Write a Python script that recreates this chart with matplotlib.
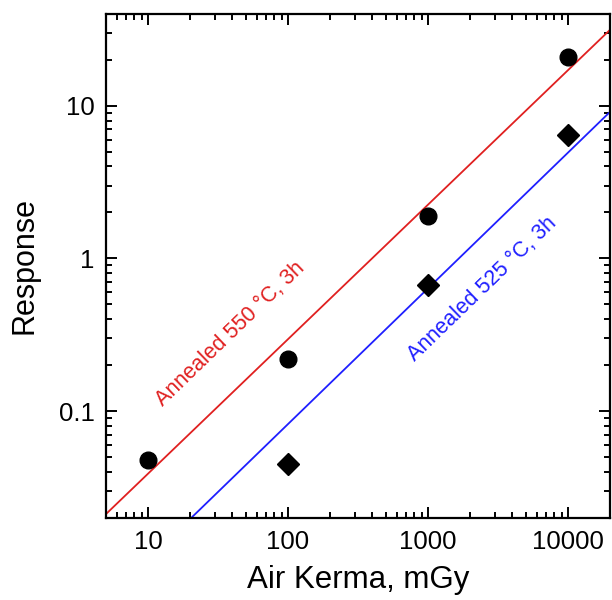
import matplotlib
matplotlib.use("Agg")
import matplotlib.pyplot as plt
import numpy as np
from matplotlib.ticker import LogLocator, NullFormatter, FixedLocator, FixedFormatter

plt.rcParams['font.family'] = ['Liberation Sans', 'DejaVu Sans']

# measured points
dose_550 = [10, 100, 1000, 10000]
resp_550 = [0.048, 0.22, 1.9, 21.0]
dose_525 = [100, 1000, 10000]
resp_525 = [0.045, 0.67, 6.4]

# log-log fit lines: log10(y) = slope*log10(x) + offset
fit_550 = (0.881, -2.291)
fit_525 = (0.889, -2.863)

xticks = [10, 100, 1000, 10000]
xtick_labels = ["10", "100", "1000", "10000"]
yticks = [0.1, 1, 10]
ytick_labels = ["0.1", "1", "10"]

fig = plt.figure(figsize=(6.12, 6.0), dpi=100)
ax = fig.add_axes([0.173, 0.137, 0.824, 0.840])

xx = np.logspace(np.log10(5), np.log10(20000), 200)
ax.plot(xx, 10 ** (fit_550[0] * np.log10(xx) + fit_550[1]), color="#e02020", lw=1.3)
ax.plot(xx, 10 ** (fit_525[0] * np.log10(xx) + fit_525[1]), color="#1f1fff", lw=1.3)

ax.plot(dose_550, resp_550, "o", color="black", ms=12, ls="none")
ax.plot(dose_525, resp_525, "D", color="black", ms=11, ls="none")

ax.set_xscale("log")
ax.set_yscale("log")
ax.set_xlim(5, 20000)
ax.set_ylim(0.02, 40)

ax.xaxis.set_major_locator(FixedLocator(xticks))
ax.xaxis.set_major_formatter(FixedFormatter(xtick_labels))
ax.yaxis.set_major_locator(FixedLocator(yticks))
ax.yaxis.set_major_formatter(FixedFormatter(ytick_labels))
ax.xaxis.set_minor_locator(LogLocator(base=10, subs=np.arange(2, 10), numticks=20))
ax.yaxis.set_minor_locator(LogLocator(base=10, subs=np.arange(2, 10), numticks=20))
ax.xaxis.set_minor_formatter(NullFormatter())
ax.yaxis.set_minor_formatter(NullFormatter())

ax.tick_params(which="both", direction="in", top=True, right=True, labelsize=18.5, width=1.4)
ax.tick_params(axis="x", which="major", pad=9)
ax.tick_params(axis="y", which="major", pad=8)
ax.tick_params(which="major", length=8)
ax.tick_params(which="minor", length=4.5)
for s in ax.spines.values():
    s.set_linewidth(1.6)

ax.set_xlabel("Air Kerma, mGy", fontsize=22.5, labelpad=8)
ax.set_ylabel("Response", fontsize=22, labelpad=14)

ax.text(39, 0.32, "Annealed 550 °C, 3h", color="#e02020", fontsize=15.5,
        rotation=44, ha="center", va="center")
ax.text(2430, 0.63, "Annealed 525 °C, 3h", color="#1f1fff", fontsize=15.5,
        rotation=44, ha="center", va="center")

fig.savefig("out.png", dpi=100)
